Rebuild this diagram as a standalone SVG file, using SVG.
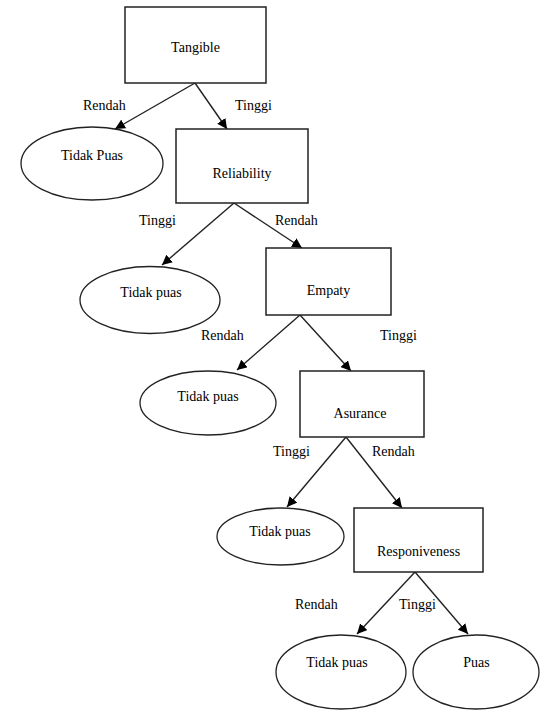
<svg xmlns="http://www.w3.org/2000/svg" width="546" height="711" viewBox="0 0 546 711">
<defs>
<marker id="ah" viewBox="0 0 10 10" refX="10" refY="5" markerWidth="10" markerHeight="10" markerUnits="userSpaceOnUse" orient="auto">
<path d="M0,0 L10,5 L0,10 z" fill="#000"/>
</marker>
</defs>
<rect width="546" height="711" fill="#fff"/>
<g id="connectors">
<g stroke="#222" stroke-width="1.4" fill="none" marker-end="url(#ah)">
<line x1="195" y1="83" x2="115" y2="129"/>
<line x1="195" y1="83" x2="227" y2="129"/>
<line x1="234" y1="203" x2="162" y2="265"/>
<line x1="234" y1="203" x2="302" y2="248"/>
<line x1="300" y1="315" x2="237" y2="370"/>
<line x1="300" y1="315" x2="351" y2="371"/>
<line x1="346" y1="437" x2="287" y2="507"/>
<line x1="346" y1="437" x2="402" y2="508"/>
<line x1="415" y1="572" x2="357" y2="634"/>
<line x1="415" y1="572" x2="468" y2="634"/>
</g>
<text font-family="Liberation Serif" font-size="14" x="83" y="110">Rendah</text>
<text font-family="Liberation Serif" font-size="14" x="235" y="110">Tinggi</text>
<text font-family="Liberation Serif" font-size="14" x="139" y="225">Tinggi</text>
<text font-family="Liberation Serif" font-size="14" x="275" y="225">Rendah</text>
<text font-family="Liberation Serif" font-size="14" x="201" y="340">Rendah</text>
<text font-family="Liberation Serif" font-size="14" x="380" y="340">Tinggi</text>
<text font-family="Liberation Serif" font-size="14" x="273" y="456">Tinggi</text>
<text font-family="Liberation Serif" font-size="14" x="372" y="456">Rendah</text>
<text font-family="Liberation Serif" font-size="14" x="295" y="609">Rendah</text>
<text font-family="Liberation Serif" font-size="14" x="399" y="609">Tinggi</text>
</g>
<g id="tangible">
<rect x="125" y="7" width="141" height="76" fill="#fff" stroke="#222" stroke-width="1.5"/>
<text font-family="Liberation Serif" font-size="14" text-anchor="middle" x="195.5" y="52">Tangible</text>
</g>
<g id="tidakpuas1">
<ellipse cx="92" cy="163.5" rx="71" ry="36.5" fill="#fff" stroke="#222" stroke-width="1.3"/>
<text font-family="Liberation Serif" font-size="14" text-anchor="middle" x="92" y="160">Tidak Puas</text>
</g>
<g id="reliability">
<rect x="176" y="129" width="132" height="74" fill="#fff" stroke="#222" stroke-width="1.5"/>
<text font-family="Liberation Serif" font-size="14" text-anchor="middle" x="242" y="178">Reliability</text>
</g>
<g id="tidakpuas2">
<ellipse cx="150" cy="300" rx="70" ry="33.5" fill="#fff" stroke="#222" stroke-width="1.3"/>
<text font-family="Liberation Serif" font-size="14" text-anchor="middle" x="151" y="297">Tidak puas</text>
</g>
<g id="empaty">
<rect x="266" y="248" width="125" height="67" fill="#fff" stroke="#222" stroke-width="1.5"/>
<text font-family="Liberation Serif" font-size="14" text-anchor="middle" x="328.5" y="295">Empaty</text>
</g>
<g id="tidakpuas3">
<ellipse cx="208" cy="403" rx="68" ry="32" fill="#fff" stroke="#222" stroke-width="1.3"/>
<text font-family="Liberation Serif" font-size="14" text-anchor="middle" x="208" y="401">Tidak puas</text>
</g>
<g id="asurance">
<rect x="300" y="371" width="124" height="66" fill="#fff" stroke="#222" stroke-width="1.5"/>
<text font-family="Liberation Serif" font-size="14" text-anchor="middle" x="360" y="418">Asurance</text>
</g>
<g id="tidakpuas4">
<ellipse cx="280.5" cy="536.5" rx="63.5" ry="28.5" fill="#fff" stroke="#222" stroke-width="1.3"/>
<text font-family="Liberation Serif" font-size="14" text-anchor="middle" x="280" y="536">Tidak puas</text>
</g>
<g id="responiveness">
<rect x="354" y="508" width="129" height="64" fill="#fff" stroke="#222" stroke-width="1.5"/>
<text font-family="Liberation Serif" font-size="14" text-anchor="middle" x="418.5" y="556">Responiveness</text>
</g>
<g id="tidakpuas5">
<ellipse cx="341" cy="672" rx="65" ry="37" fill="#fff" stroke="#222" stroke-width="1.3"/>
<text font-family="Liberation Serif" font-size="14" text-anchor="middle" x="337" y="667">Tidak puas</text>
</g>
<g id="puas">
<ellipse cx="476" cy="672" rx="63" ry="37" fill="#fff" stroke="#222" stroke-width="1.3"/>
<text font-family="Liberation Serif" font-size="14" text-anchor="middle" x="476.5" y="667">Puas</text>
</g>
</svg>
